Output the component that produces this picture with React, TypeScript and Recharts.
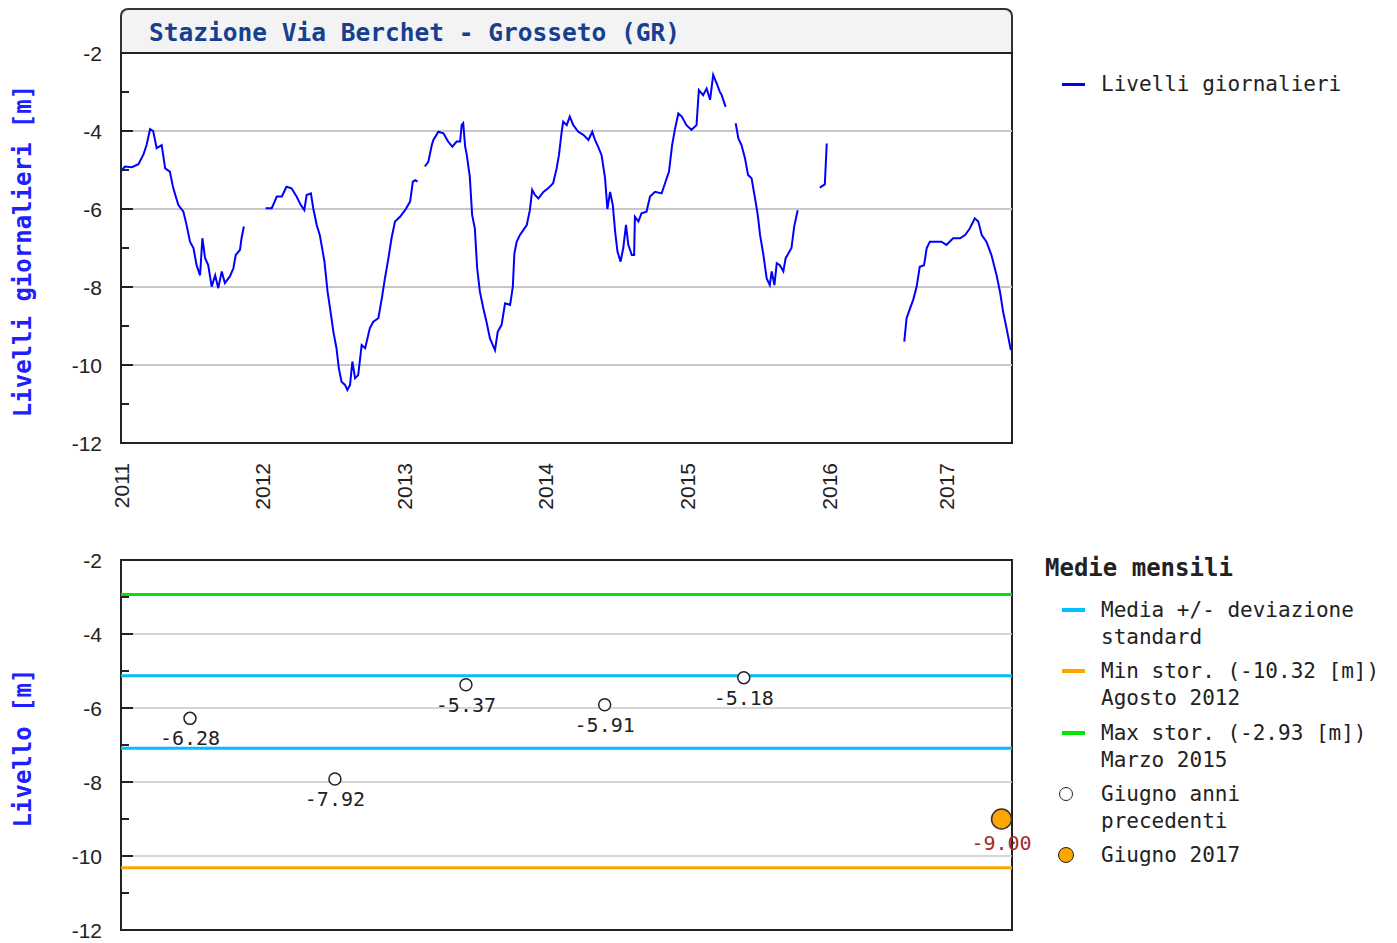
import React from "react";
import {
  LineChart,
  Line,
  XAxis,
  YAxis,
  ReferenceLine,
  ReferenceArea,
  ScatterChart,
  Scatter,
} from "recharts";

// giorno progressivo della serie (0 = inizio 2011), null = dato mancante
const giorni = [
  0, 10, 28, 45, 58, 66, 75, 83, 92, 105, 114, 126, 135, 148, 161, 169, 178, 187, 195, 204, 210, 217, 225, 234, 243, 251, 260, 268, 281, 290, 296, 307, 311, 317,
  330,
  373, 389, 402, 415, 427, 440, 453, 464, 473, 479, 490, 496, 505, 513, 525, 533, 542, 548, 556, 562, 569, 578, 584, 591, 597, 604, 612, 621, 630, 642, 651, 664, 673, 681, 690, 698, 707, 720, 733, 746, 753, 759, 765,
  772,
  784, 793, 802, 806, 819, 832, 844, 855, 866, 875, 879, 883, 888, 892, 900, 906, 913, 919, 926, 935, 943, 952, 961, 965, 972, 982, 991, 1004, 1011, 1015, 1021, 1029, 1038, 1047, 1055, 1061, 1068, 1077, 1090, 1102, 1115, 1124, 1130, 1137, 1141, 1150, 1158, 1167, 1180, 1193, 1206, 1216, 1223, 1231, 1240, 1249, 1255, 1262, 1269, 1275, 1281, 1289, 1296, 1303, 1309, 1318, 1324, 1326, 1335, 1343, 1356, 1365, 1378, 1395, 1405, 1414, 1422, 1429, 1438, 1447, 1459, 1472, 1485, 1491, 1502, 1511, 1520, 1528, 1537, 1545, 1550, 1560,
  1570,
  1586, 1593, 1601, 1610, 1618, 1627, 1636, 1643, 1649, 1657, 1666, 1674, 1679, 1686, 1692, 1700, 1709, 1715, 1730, 1737, 1746,
  1760,
  1803, 1816, 1821,
  1900,
  2021, 2027, 2036, 2044, 2053, 2061, 2072, 2079, 2087, 2100, 2117, 2130, 2147, 2165, 2178, 2190, 2203, 2212, 2221, 2233, 2246, 2259, 2268, 2276, 2285, 2296,
];

const livelli = [
  -5.03, -4.91, -4.93, -4.85, -4.6, -4.36, -3.95, -4.0, -4.44, -4.36, -4.96, -5.04, -5.47, -5.9, -6.07, -6.4, -6.84, -7.0, -7.44, -7.7, -6.75, -7.26, -7.44, -7.99, -7.7, -8.03, -7.6, -7.9, -7.73, -7.52, -7.18, -7.05, -6.75, -6.45,
  null,
  -5.98, -5.98, -5.68, -5.68, -5.43, -5.47, -5.68, -5.9, -6.03, -5.64, -5.6, -5.98, -6.41, -6.67, -7.35, -8.12, -8.72, -9.15, -9.57, -10.08, -10.43, -10.51, -10.64, -10.51, -9.91, -10.34, -10.26, -9.49, -9.57, -9.06, -8.89, -8.8, -8.29, -7.78, -7.26, -6.75, -6.32, -6.2, -6.03, -5.81, -5.3, -5.26, -5.3,
  null,
  -4.91, -4.79, -4.36, -4.23, -4.02, -4.06, -4.27, -4.4, -4.27, -4.27, -3.85, -3.8, -4.4, -4.6, -5.17, -6.15, -6.5, -7.52, -8.12, -8.55, -8.89, -9.32, -9.53, -9.62, -9.15, -8.97, -8.42, -8.46, -7.99, -7.14, -6.84, -6.67, -6.54, -6.41, -6.03, -5.51, -5.64, -5.73, -5.56, -5.47, -5.34, -4.96, -4.62, -4.02, -3.76, -3.85, -3.63, -3.85, -4.02, -4.1, -4.23, -4.02, -4.23, -4.4, -4.62, -5.21, -6.0, -5.56, -5.9, -6.58, -7.09, -7.35, -7.0, -6.41, -6.92, -7.18, -7.18, -6.2, -6.32, -6.11, -6.07, -5.68, -5.56, -5.6, -5.3, -5.04, -4.36, -3.97, -3.55, -3.63, -3.85, -3.97, -3.85, -2.95, -3.08, -2.91, -3.2, -2.56, -2.78, -2.99, -3.08, -3.38,
  null,
  -3.8, -4.19, -4.36, -4.7, -5.13, -5.21, -5.73, -6.15, -6.67, -7.14, -7.78, -7.95, -7.6, -7.95, -7.39, -7.44, -7.6, -7.26, -7.0, -6.45, -6.03,
  null,
  -5.45, -5.37, -4.32,
  null,
  -9.4, -8.8, -8.55, -8.33, -7.99, -7.48, -7.44, -7.0, -6.84, -6.84, -6.84, -6.92, -6.75, -6.75, -6.67, -6.5, -6.24, -6.32, -6.67, -6.84, -7.18, -7.69, -8.12, -8.63, -9.06, -9.62,
];

const anniTick = [0, 365, 731, 1096, 1461, 1827, 2131];
const anni = ["2011", "2012", "2013", "2014", "2015", "2016", "2017"];
const yTick = [-12, -11, -10, -9, -8, -7, -6, -5, -4, -3, -2];
const griglia = [-4, -6, -8, -10];

// medie mensili di giugno
const giugnoGiorni = [178, 552, 890, 1248, 1607];
const giugnoLivelli = [-6.28, -7.92, -5.37, -5.91, -5.18];
const giugno2017Giorni = [2272];
const giugno2017Livelli = [-9.0];

const mediaPiuStd = -5.13;
const mediaMenoStd = -7.09;
const minStorico = -10.32;
const maxStorico = -2.93;

const serie = giorni.map((g, i) => ({ giorno: g, livello: livelli[i] }));
const giugnoPrec = giugnoGiorni.map((g, i) => ({ giorno: g, livello: giugnoLivelli[i] }));
const giugnoOra = giugno2017Giorni.map((g, i) => ({ giorno: g, livello: giugno2017Livelli[i] }));

const mono = '"DejaVu Sans Mono", monospace';
const sans = '"Liberation Sans", Arial, sans-serif';
const blu = "#0000ff";
const ciano = "#00bfff";
const arancio = "#ffa500";
const verde = "#00e600";

function TickLivello(props: any) {
  const { x, y, payload } = props;
  const v = payload.value;
  const principale = v % 2 === 0;
  return (
    <g>
      <line x1={x} y1={y} x2={x + (principale ? 12 : 8)} y2={y} stroke="#222" strokeWidth={2} />
      {principale && (
        <text x={x - 19} y={y} dy="0.36em" textAnchor="end" fontFamily={sans} fontSize={21} fill="#222">
          {v}
        </text>
      )}
    </g>
  );
}

function TickAnno(props: any) {
  const { x, y, payload } = props;
  const i = anniTick.indexOf(payload.value);
  return (
    <text
      transform={`translate(${x + 7.5},${y + 20}) rotate(-90)`}
      textAnchor="end"
      fontFamily={sans}
      fontSize={21}
      fill="#222"
    >
      {anni[i]}
    </text>
  );
}

const titoloAsse = (testo: string) => (props: any) => {
  const vb = props.viewBox;
  const cy = vb.y + vb.height / 2 + 3;
  return (
    <text
      transform={`translate(22,${cy}) rotate(-90)`}
      dy="0.36em"
      textAnchor="middle"
      fontFamily={mono}
      fontWeight="bold"
      fontSize={24}
      fill="#2020ff"
    >
      {testo}
    </text>
  );
};

function PuntoAnni(props: any) {
  const { cx, cy, payload } = props;
  return (
    <g>
      <circle cx={cx} cy={cy} r={6} fill="#fff" stroke="#222" strokeWidth={1.5} />
      <text x={cx} y={cy + 27} textAnchor="middle" fontFamily={mono} fontSize={20} fill="#222">
        {payload.livello.toFixed(2)}
      </text>
    </g>
  );
}

function PuntoOra(props: any) {
  const { cx, cy, payload } = props;
  return (
    <g>
      <circle cx={cx} cy={cy} r={10} fill={arancio} stroke="#333" strokeWidth={1.5} />
      <text x={cx} y={cy + 31} textAnchor="middle" fontFamily={mono} fontSize={20} fill="#a52a2a">
        {payload.livello.toFixed(2)}
      </text>
    </g>
  );
}

function Riga({ top, righe, bold = false, size = 21, left = 1101 }: any) {
  return (
    <div
      style={{
        position: "absolute",
        left,
        top: top - 13.5,
        fontFamily: mono,
        fontSize: size,
        fontWeight: bold ? "bold" : "normal",
        lineHeight: "27px",
        color: "#222",
        whiteSpace: "pre",
      }}
    >
      {righe.join("\n")}
    </div>
  );
}

function Trattino({ y, colore, spessore = 4 }: any) {
  return (
    <div
      style={{
        position: "absolute",
        left: 1062,
        top: y - spessore / 2,
        width: 23,
        height: spessore,
        background: colore,
      }}
    />
  );
}

function Cerchio({ y, colore, r }: any) {
  return (
    <div
      style={{
        position: "absolute",
        left: 1066 - r,
        top: y - r,
        width: r * 2,
        height: r * 2,
        boxSizing: "border-box",
        borderRadius: "50%",
        border: "1.5px solid #222",
        background: colore,
      }}
    />
  );
}

export default function App() {
  return (
    <div style={{ position: "absolute", left: 0, top: 0, width: 1397, height: 943, background: "#fff", overflow: "hidden" }}>
      {/* barra del titolo */}
      <div
        style={{
          position: "absolute",
          left: 120,
          top: 8,
          width: 893,
          height: 46,
          boxSizing: "border-box",
          borderTop: "2px solid #333",
          borderLeft: "2px solid #333",
          borderRight: "2px solid #333",
          borderRadius: "8px 8px 0 0",
          background: "#f3f3f3",
        }}
      >
        <span
          style={{
            position: "absolute",
            left: 27,
            top: 8,
            lineHeight: "30px",
            fontFamily: mono,
            fontWeight: "bold",
            fontSize: 24.5,
            color: "#163f8f",
            whiteSpace: "pre",
          }}
        >
          Stazione Via Berchet - Grosseto (GR)
        </span>
      </div>

      <div style={{ position: "absolute", left: 0, top: 0 }}>
        <LineChart width={1030} height={530} data={serie} margin={{ top: 53, right: 18, bottom: 0, left: 0 }}>
          <XAxis
            dataKey="giorno"
            type="number"
            domain={[0, 2299]}
            ticks={anniTick}
            interval={0}
            tick={<TickAnno />}
            tickSize={0}
            tickMargin={0}
            axisLine={false}
            tickLine={false}
            height={87}
          />
          <YAxis
            type="number"
            domain={[-12, -2]}
            ticks={yTick}
            interval={0}
            tick={<TickLivello />}
            tickSize={0}
            tickMargin={0}
            axisLine={false}
            tickLine={false}
            width={121}
            label={{ content: titoloAsse("Livelli giornalieri [m]") }}
          />
          {griglia.map((v) => (
            <ReferenceLine key={v} y={v} stroke="#c8c8c8" strokeWidth={2} />
          ))}
          <Line
            dataKey="livello"
            type="linear"
            stroke={blu}
            strokeWidth={2}
            dot={false}
            connectNulls={false}
            isAnimationActive={false}
          />
          <ReferenceArea x1={0} x2={2299} y1={-12} y2={-2} fill="none" stroke="#222" strokeWidth={2} />
        </LineChart>
      </div>

      <div style={{ position: "absolute", left: 0, top: 500 }}>
        <ScatterChart width={1042} height={443} margin={{ top: 60, right: 30, bottom: 13, left: 0 }}>
          <XAxis dataKey="giorno" type="number" domain={[0, 2299]} hide />
          <YAxis
            dataKey="livello"
            type="number"
            domain={[-12, -2]}
            ticks={yTick}
            interval={0}
            tick={<TickLivello />}
            tickSize={0}
            tickMargin={0}
            axisLine={false}
            tickLine={false}
            width={121}
            label={{ content: titoloAsse("Livello [m]") }}
          />
          {griglia.map((v) => (
            <ReferenceLine key={v} y={v} stroke="#c8c8c8" strokeWidth={1.5} />
          ))}
          <ReferenceLine y={maxStorico} stroke={verde} strokeWidth={3} />
          <ReferenceLine y={mediaPiuStd} stroke={ciano} strokeWidth={3} />
          <ReferenceLine y={mediaMenoStd} stroke={ciano} strokeWidth={3} />
          <ReferenceLine y={minStorico} stroke={arancio} strokeWidth={3} />
          <ReferenceArea x1={0} x2={2299} y1={-12} y2={-2} fill="none" stroke="#222" strokeWidth={2} />
          <Scatter data={giugnoPrec} shape={PuntoAnni} isAnimationActive={false} />
          <Scatter data={giugnoOra} shape={PuntoOra} isAnimationActive={false} />
        </ScatterChart>
      </div>

      {/* legenda livelli giornalieri */}
      <Trattino y={84} colore={blu} spessore={3} />
      <Riga top={84} righe={["Livelli giornalieri"]} />

      {/* legenda medie mensili */}
      <Riga top={568} left={1045} size={24} bold righe={["Medie mensili"]} />
      <Trattino y={610} colore={ciano} />
      <Riga top={610} righe={["Media +/- deviazione", "standard"]} />
      <Trattino y={671} colore={arancio} />
      <Riga top={671} righe={["Min stor. (-10.32 [m])", "Agosto 2012"]} />
      <Trattino y={733} colore={verde} />
      <Riga top={733} righe={["Max stor. (-2.93 [m])", "Marzo 2015"]} />
      <Cerchio y={794} colore="#fff" r={7} />
      <Riga top={794} righe={["Giugno anni", "precedenti"]} />
      <Cerchio y={855} colore={arancio} r={8} />
      <Riga top={855} righe={["Giugno 2017"]} />
    </div>
  );
}
